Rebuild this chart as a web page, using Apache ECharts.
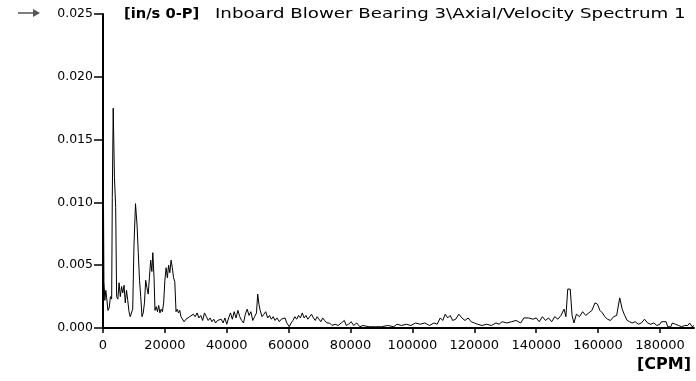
<!DOCTYPE html>
<html>
<head>
<meta charset="utf-8">
<script src="https://cdn.jsdelivr.net/npm/echarts@6/dist/echarts.min.js"></script>
<style>
html,body{margin:0;padding:0;background:#fff;}
#chart{width:696px;height:381px;}
</style>
</head>
<body>
<div id="chart"></div>
<script>
// Spectrum values (CPM, in/s 0-P)
var freqA = [0,300,600,900,1200,1600,2000,2400,2800,3000,3300,3700,4100,4400,4800,5200,5600,6000,6400,6800,7200,7600,8000,8400,8800,9200,9600,10000,10500,11000,11400,11800,12200,12600,13000,13400,13800,14200,14600,15000,15400,15800,16100,16500,16800,17200,17600,18000,18400,18800,19200,19600,20000,20400,20800,21200,21600,22000,22400,22800,23200,23600,24000,24400,24800];
var ampA  = [0.0165,0.0037,0.0022,0.0030,0.0024,0.0014,0.0016,0.0025,0.0023,0.0104,0.0175,0.0120,0.0096,0.0025,0.0023,0.0036,0.0025,0.0033,0.0028,0.0034,0.0020,0.0030,0.0022,0.0013,0.0009,0.0010,0.0015,0.0065,0.0099,0.0082,0.0060,0.0038,0.0025,0.0009,0.0012,0.0020,0.0038,0.0032,0.0027,0.0040,0.0054,0.0045,0.0060,0.0040,0.0014,0.0017,0.0013,0.0018,0.0012,0.0015,0.0013,0.0020,0.0038,0.0048,0.0040,0.0050,0.0044,0.0054,0.0048,0.0040,0.0037,0.0013,0.0015,0.0012,0.0014];

var freqB = [25200,25800,26200,26800,27400,28000,28600,29200,29800,30400,31000,31600,32200,32800,33400,34000,34600,35200,35800,36400,37000,37600,38200,38800,39400,40000,40600,41200,41800,42400,43000,43600,44200,44800,45400,46000,46600,47200,47800,48400,49000,49600,50000,50400,50800,51400,52000,52600,53200,53800,54400,55000,55600,56200,57000,57600,58200,58800,59400,60200,60800,61400,62000,62600,63200,63800,64400,65000,65600,66200,66800,67400,68000,68600,69200,69800,70400,71000,71600,72400,73200,74000];
var ampB  = [0.0009,0.0008,0.0005,0.0007,0.0006,0.0009,0.0008,0.0011,0.0009,0.0012,0.0008,0.0010,0.0006,0.0012,0.0009,0.0006,0.0008,0.0005,0.0007,0.0004,0.0006,0.0005,0.0007,0.0004,0.0008,0.0003,0.0008,0.0012,0.0007,0.0013,0.0008,0.0014,0.0009,0.0006,0.0004,0.0011,0.0015,0.0010,0.0013,0.0006,0.0009,0.0012,0.0027,0.0019,0.0014,0.0009,0.0011,0.0013,0.0008,0.0010,0.0007,0.0009,0.0006,0.0008,0.0005,0.0007,0.0006,0.0008,0.0004,0.0001,0.0004,0.0006,0.0009,0.0007,0.0010,0.0008,0.0012,0.0008,0.0010,0.0007,0.0009,0.0011,0.0008,0.0006,0.0009,0.0007,0.0005,0.0008,0.0006,0.0004,0.0004,0.0002];

var freqC = [75000,76000,77000,78000,78600,79400,80200,81000,82000,83000,84000,86000,88000,90000,92000,94000,95000,96500,98000,99500,101000,102500,104000,105500,107000,108000,109000,109800,110600,111400,112200,113000,114000,115000,116000,117000,118000,119000,120000,121000,122500,124000,125500,127000,128000,129000,130500,132000,133500,135000];
var ampC  = [0.0003,0.0002,0.0004,0.0006,0.0002,0.0003,0.0005,0.0002,0.0004,0.0001,0.0002,0.0001,0.0001,0.0001,0.0002,0.0001,0.0003,0.0002,0.0003,0.0002,0.0004,0.0003,0.0004,0.0002,0.0004,0.0003,0.0008,0.0006,0.0011,0.0008,0.0010,0.0006,0.0007,0.0011,0.0008,0.0006,0.0008,0.0005,0.0004,0.0003,0.0002,0.0003,0.0002,0.0004,0.0003,0.0005,0.0004,0.0005,0.0006,0.0004];

var freqD = [136000,137500,139000,140000,141000,142000,143000,144000,145000,146000,147000,148000,149000,149600,150200,151000,151600,152200,153000,154000,155000,156000,157000,158000,159000,159800,160600,161400,162200,163000,164000,165000,166000,167000,167800,168600,169400,170200,171000,172000,173000,174000,175000,176000,177000,178000,179000,180000,180500,182000,182500,183500,184000,185000,186000,187000,188000,189000,189600,190400,191000];
var ampD  = [0.0008,0.0008,0.0007,0.0008,0.0005,0.0009,0.0006,0.0008,0.0005,0.0009,0.0007,0.0010,0.0015,0.0009,0.0031,0.0031,0.0010,0.0004,0.0011,0.0009,0.0013,0.0010,0.0012,0.0014,0.0020,0.0019,0.0014,0.0012,0.0009,0.0007,0.0006,0.0009,0.0010,0.0024,0.0015,0.0010,0.0006,0.0005,0.0004,0.0005,0.0003,0.0004,0.0007,0.0004,0.0003,0.0004,0.0002,0.0003,0.0005,0.0005,0.0001,0.0001,0.0004,0.0003,0.0002,0.0001,0.0002,0.0002,0.0004,0.0001,0.0002];

var xTicks = [0,20000,40000,60000,80000,100000,120000,140000,160000,180000];
var yTicks = [0,0.005,0.010,0.015,0.020,0.025];

var titleUnit = '[in/s 0-P]';
var titleText = 'Inboard Blower Bearing 3\\Axial/Velocity Spectrum 1';
var xUnit = '[CPM]';

var freqs = freqA.concat(freqB, freqC, freqD);
var amps = ampA.concat(ampB, ampC, ampD);
var seriesData = freqs.map(function (f, i) { return [f, amps[i]]; });

var chart = echarts.init(document.getElementById('chart'), null, {renderer: 'canvas'});
var font = 'DejaVu Sans';
chart.setOption({
  animation: false,
  backgroundColor: '#ffffff',
  grid: {left: 103, top: 14, right: 2, bottom: 53, containLabel: false},
  xAxis: {
    type: 'value', min: 0, max: 191000, interval: 20000,
    axisLine: {show: true, lineStyle: {color: '#000', width: 2}},
    axisTick: {show: true, length: 5, lineStyle: {color: '#000', width: 1.5},
      customValues: xTicks},
    axisLabel: {color: '#000', fontFamily: font, fontSize: 13, margin: 11,
      customValues: xTicks,
      formatter: function (v) { return String(v); }},
    splitLine: {show: false}
  },
  yAxis: {
    type: 'value', min: 0, max: 0.025, interval: 0.005,
    axisLine: {show: true, lineStyle: {color: '#000', width: 2}},
    axisTick: {show: true, length: 9, lineStyle: {color: '#000', width: 1.5},
      customValues: yTicks},
    axisLabel: {color: '#000', fontFamily: font, fontSize: 12.5, margin: 10,
      customValues: yTicks,
      formatter: function (v) { return v.toFixed(3); }},
    splitLine: {show: false}
  },
  series: [{
    type: 'line',
    data: seriesData,
    showSymbol: false,
    symbol: 'none',
    lineStyle: {color: '#000', width: 1},
    silent: true
  }],
  graphic: [
    {type: 'line', shape: {x1: 18, y1: 13, x2: 34, y2: 13}, style: {stroke: '#555', lineWidth: 1.5}},
    {type: 'polygon', shape: {points: [[33, 9], [40, 13], [33, 17]]}, style: {fill: '#555'}},
    {type: 'text', x: 124, y: 7, scaleX: 1.05, style: {text: titleUnit, font: 'bold 14px "DejaVu Sans"', fill: '#000'}},
    {type: 'text', x: 215, y: 7, scaleX: 1.3, style: {text: titleText, font: '14px "DejaVu Sans"', fill: '#000'}},
    {type: 'text', x: 637, y: 357, scaleX: 1.0, style: {text: xUnit, font: 'bold 16px "DejaVu Sans"', fill: '#000'}}
  ]
});
</script>
</body>
</html>
